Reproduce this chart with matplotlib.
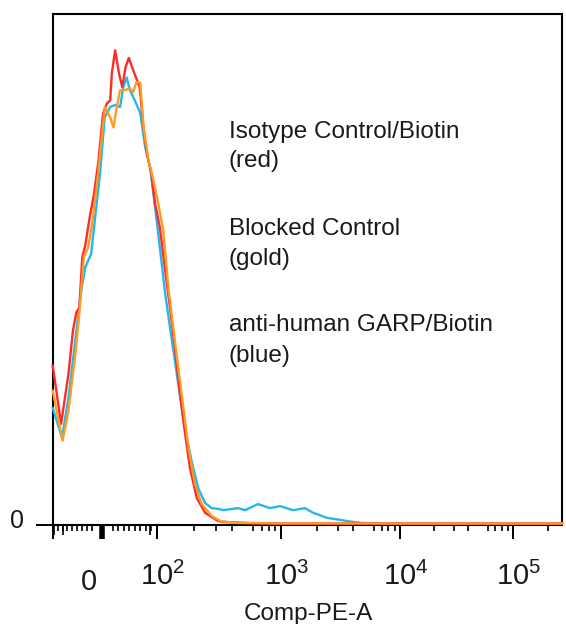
import numpy as np
import matplotlib
matplotlib.use("Agg")
import matplotlib.pyplot as plt
from matplotlib.transforms import ScaledTranslation

plt.rcParams['font.family'] = ['Liberation Sans', 'DejaVu Sans']
plt.rcParams['mathtext.fontset'] = 'custom'
plt.rcParams['mathtext.rm'] = 'Liberation Sans'
plt.rcParams['mathtext.it'] = 'Liberation Sans'

# Comp-PE-A values and normalized counts (% of max)
red_x = [-100, -83, -68, -59, -52, -46, -40, -34, -25, -16, -7, 2, 9, 15, 18, 24,
         31, 37, 43, 49, 55, 62, 69, 75, 82, 90, 97, 106, 117, 128, 140, 153,
         168, 185, 210, 245, 311, 342, 533, 1000, 262144]
red_y = [31.2, 19.8, 29.6, 38.0, 41.6, 42.5, 52.4, 54.7, 60.2, 64.9, 71.4, 80.6,
         82.5, 83.1, 88.4, 92.9, 88.4, 85.7, 89.6, 91.4, 89.6, 87.6, 85.7, 78.6,
         72.7, 68.8, 62.9, 58.2, 49.8, 42.5, 34.7, 26.3, 18.4, 11.2, 5.3, 2.4,
         0.8, 0.6, 0.4, 0.3, 0.3]

gold_x = [-100, -80, -68, -55, -46, -37, -28, -19, -10, -1, 5, 15, 21, 27, 33,
          42, 51, 57, 63, 70, 76, 85, 94, 103, 113, 124, 136, 149, 164, 180,
          203, 230, 277, 323, 427, 1000, 262144]
gold_y = [26.3, 16.5, 22.4, 32.7, 41.4, 52.4, 54.3, 59.6, 66.9, 75.3, 81.8, 79.8,
          77.8, 81.8, 85.1, 85.1, 85.5, 84.7, 86.7, 86.5, 77.8, 71.4, 67.5, 62.9,
          57.6, 46.5, 38.6, 30.8, 22.9, 15.1, 8.0, 4.1, 1.8, 0.8, 0.4, 0.3, 0.3]

blue_x = [-100, -81, -68, -55, -43, -34, -22, -13, -4, 5, 15, 24, 33, 39, 45, 51,
          60, 70, 79, 88, 97, 106, 117, 128, 140, 153, 168, 191, 215, 245, 277,
          323, 342, 451, 513, 653, 815, 982, 1261, 1591, 1857, 2435, 3132, 4027,
          4794, 8000, 262144]
blue_y = [22.9, 17.1, 24.9, 35.5, 45.3, 50.4, 53.1, 61.0, 68.8, 79.8, 81.8, 82.2,
          81.8, 85.7, 87.6, 85.1, 83.1, 80.6, 73.9, 70.0, 62.2, 54.3, 45.3, 38.6,
          32.2, 25.7, 19.0, 12.5, 7.3, 4.3, 3.3, 3.1, 2.9, 3.3, 2.9, 4.1, 3.3,
          3.7, 2.9, 3.3, 2.4, 1.4, 1.0, 0.6, 0.4, 0.3, 0.3]

legend_lines = ["Isotype Control/Biotin", "(red)", "Blocked Control", "(gold)",
                "anti-human GARP/Biotin", "(blue)"]

major_ticks = [-100, 0, 100, 1000, 10000, 100000]
major_labels = ["", "$0$", "$10^2$", "$10^3$", "$10^4$", "$10^5$"]
minor_ticks = ([-90, -80, -70, -60, -50, -40, -30, -20, 20, 30, 40, 50, 60, 70, 80, 90]
               + [m * d for d in (100, 1000, 10000) for m in (2, 3, 4, 6, 7, 8, 9)]
               + [200000])
mid_ticks = [500, 5000, 50000]

# biexponential-like display scale (FlowJo style)
G_ANCH = np.array([-10, -1, 0, 1, 2, 3, 4, np.log10(262144 / 100) + 1, 10])
P_ANCH = np.array([52.7 - 9 * 49.3, 52.7, 102, 156.7, 281, 400, 513, 562, 562 + 5.58 * 117])


def to_g(x):
    x = np.asarray(x, dtype=float)
    ax_ = np.maximum(np.abs(x), 1e-9)
    return np.where(ax_ <= 100, x / 100, np.sign(x) * (1 + np.log10(ax_ / 100)))


def fwd(x):
    return np.interp(to_g(x), G_ANCH, P_ANCH)


def inv(p):
    g = np.interp(np.asarray(p, dtype=float), P_ANCH, G_ANCH)
    return np.where(np.abs(g) <= 1, g * 100, np.sign(g) * 100 * 10 ** (np.abs(g) - 1))


W, H = 566, 624
fig = plt.figure(figsize=(W / 100, H / 100), dpi=100)
ax = fig.add_axes([52.7 / W, 1 - 525 / H, (562 - 52.7) / W, (525 - 14) / H])
ax.set_xscale('function', functions=(fwd, inv))

ax.plot(blue_x, blue_y, color='#22B8EE', lw=1.7, clip_on=False, zorder=3)
ax.plot(red_x, red_y, color='#FF2A2A', lw=1.7, clip_on=False, zorder=4)
ax.plot(gold_x, gold_y, color='#FF9A22', lw=1.7, clip_on=False, zorder=5)

ax.set_xlim(-100, 262144)
ax.set_ylim(0, 100)

for s in ax.spines.values():
    s.set_linewidth(1.5)
    s.set_color('black')

ax.set_xticks(major_ticks)
ax.set_xticklabels(major_labels)
ax.set_xticks(minor_ticks, minor=True)
ax.tick_params(axis='x', which='major', length=10, width=1.4, pad=16.5,
               labelsize=21, labelcolor='#1a1a1a')
ax.tick_params(axis='x', which='minor', length=4.5, width=1.2)
ax.xaxis.get_major_ticks()[1].tick1line.set_markeredgewidth(4)

sec = ax.secondary_xaxis('bottom')
sec.set_xticks(mid_ticks)
sec.tick_params(length=7, width=1.2, labelbottom=False)
sec.spines['bottom'].set_visible(False)

ax.set_yticks([0])
ax.set_yticklabels(["0"])
ax.tick_params(axis='y', length=12, width=1.4, pad=9, labelsize=18, labelcolor='#1a1a1a')

dpi = fig.dpi
for i, lab in enumerate(ax.get_xticklabels()):
    if i == 1:
        dx, dy = -13, -6
    else:
        dx, dy = 6, 0
    lab.set_transform(lab.get_transform() + ScaledTranslation(dx / dpi, dy / dpi, fig.dpi_scale_trans))
for lab in ax.get_yticklabels():
    lab.set_transform(lab.get_transform() + ScaledTranslation(0, 6 / dpi, fig.dpi_scale_trans))

fig.text(308 / W, 1 - 620 / H, "Comp-PE-A", ha='center', va='baseline',
         fontsize=17.5, color='#1a1a1a')

baselines = [138, 167, 235, 265, 331, 362]
for txt, yb in zip(legend_lines, baselines):
    fig.text(229 / W, 1 - yb / H, txt, ha='left', va='baseline', fontsize=17.5, color='#1a1a1a')

fig.savefig("out.png", dpi=100)
